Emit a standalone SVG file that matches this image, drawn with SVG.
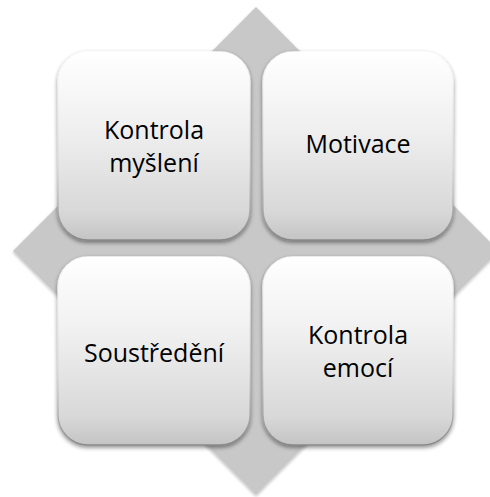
<svg xmlns="http://www.w3.org/2000/svg" width="490" height="497" viewBox="0 0 490 497">
  <defs>
    <linearGradient id="boxFill" x1="0" y1="0" x2="0" y2="1">
      <stop offset="0" stop-color="#ffffff"/>
      <stop offset="0.4" stop-color="#f0f0f0"/>
      <stop offset="0.85" stop-color="#d8d8d8"/>
      <stop offset="1" stop-color="#c4c4c4"/>
    </linearGradient>
    <linearGradient id="edge" x1="0" y1="0" x2="0" y2="1">
      <stop offset="0" stop-color="#ffffff" stop-opacity="0.9"/>
      <stop offset="0.6" stop-color="#d0d0d0" stop-opacity="0.5"/>
      <stop offset="1" stop-color="#808080" stop-opacity="0.85"/>
    </linearGradient>
    <filter id="shadow" x="-10%" y="-10%" width="120%" height="125%">
      <feDropShadow dx="0" dy="2" stdDeviation="2" flood-color="#000" flood-opacity="0.45"/>
    </filter>
    <filter id="dshadow" x="-5%" y="-5%" width="110%" height="110%">
      <feDropShadow dx="0" dy="1.5" stdDeviation="1.5" flood-color="#000" flood-opacity="0.25"/>
    </filter>
  </defs>
  <style>
    .box { fill: url(#boxFill); stroke: url(#edge); stroke-width: 1.5; filter: url(#shadow); }
    .lbl { font-family: "Open Sans", "Liberation Sans", sans-serif; font-size: 25px; fill: #000; text-anchor: middle; }
  </style>
  <rect width="490" height="497" fill="#ffffff"/>
  <g id="diamond">
    <polygon points="256,7 499,251 256,495 13,251" fill="#c8c8c8" filter="url(#dshadow)"/>
  </g>
  <g id="connectors"/>
  <g id="node-kontrola-mysleni">
    <rect class="box" x="58" y="52" width="192" height="188" rx="30" ry="30"/>
    <text class="lbl" x="154" y="139">Kontrola</text>
    <text class="lbl" x="154" y="172">myšlení</text>
  </g>
  <g id="node-motivace">
    <rect class="box" x="263" y="52" width="190" height="188" rx="30" ry="30"/>
    <text class="lbl" x="358" y="153">Motivace</text>
  </g>
  <g id="node-soustredeni">
    <rect class="box" x="58" y="257" width="192" height="188" rx="30" ry="30"/>
    <text class="lbl" x="154" y="362">Soustředění</text>
  </g>
  <g id="node-kontrola-emoci">
    <rect class="box" x="263" y="257" width="190" height="188" rx="30" ry="30"/>
    <text class="lbl" x="358" y="344">Kontrola</text>
    <text class="lbl" x="358" y="377">emocí</text>
  </g>
</svg>
